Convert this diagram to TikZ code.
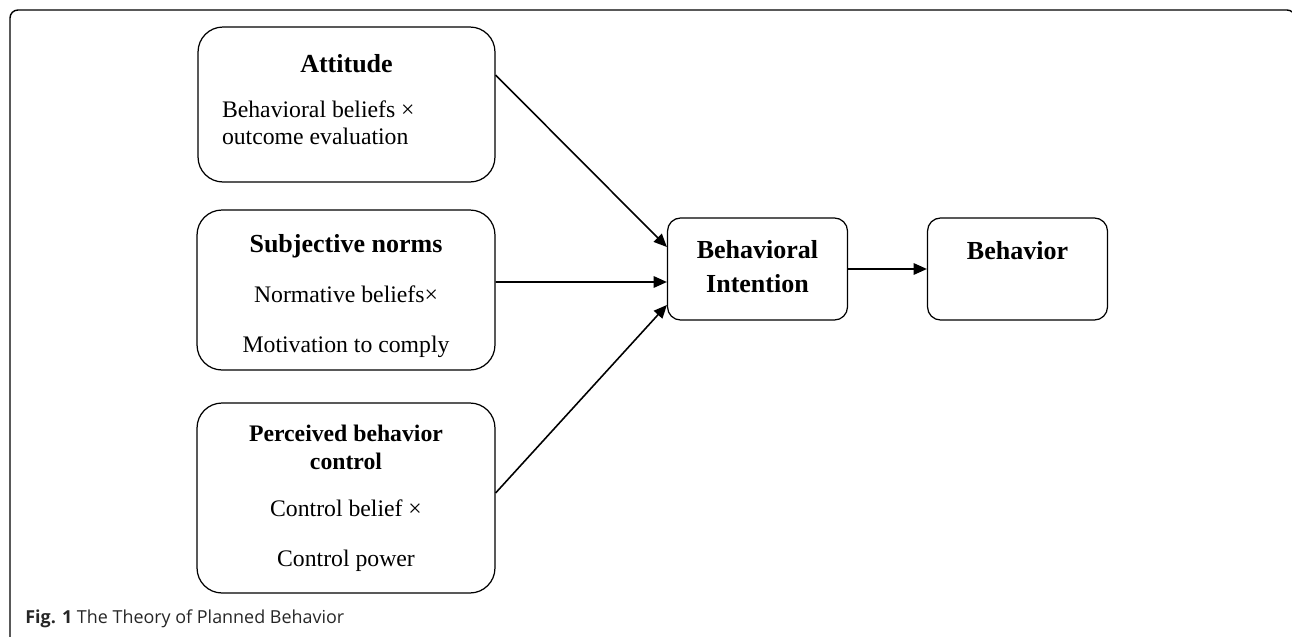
\documentclass[tikz,border=0pt]{standalone}
\usepackage{fontspec}
\setmainfont{Liberation Serif}
\newfontfamily\capfont{Open Sans}
\usetikzlibrary{arrows.meta}

\newcommand\boxtitle[1]{{\fontsize{14.8}{17}\selectfont\bfseries #1}}

\tikzset{
  bigbox/.style={draw, rounded corners=0.5cm, line width=0.7pt, inner sep=0pt,
    align=center, font=\fontsize{13.5}{16}\selectfont},
  smallbox/.style={bigbox, rounded corners=0.26cm, minimum width=3.6cm, minimum height=2.04cm},
  link/.style={line width=0.9pt, -{Triangle[length=7.5pt,width=6.5pt]}}
}

\begin{document}
\begin{tikzpicture}[x=0.02cm, y=-0.02cm]
\useasboundingbox (0,0) rectangle (1292,636);
% outer frame, only top and left are in view
\draw[line width=0.8pt, rounded corners=0.16cm] (10,640) -- (10,10) -- (1295,10) -- (1295,640);

% the three predictors
\node[bigbox, minimum width=5.94cm, minimum height=3.1cm] (att) at (346.5,104.5)
  {\boxtitle{Attitude}\\[10pt]\makebox[4.98cm][l]{Behavioral beliefs ×}\\[-1pt]\makebox[4.98cm][l]{outcome evaluation}\rule[-6pt]{0pt}{6pt}};
\node[bigbox, minimum width=5.96cm, minimum height=3.2cm] (sn) at (346,290)
  {\rule{0pt}{17pt}\boxtitle{Subjective norms}\\[12.5pt]Normative beliefs×\\[12.5pt]Motivation to comply};
\node[bigbox, minimum width=5.96cm, minimum height=3.8cm] (pbc) at (346,498)
  {\textbf{Perceived behavior}\\\textbf{control}\\[11pt]Control belief ×\\[12pt]Control power};

% intention and behavior
\node[smallbox] (bi) at (757.5,269) {\boxtitle{Behavioral}\\[3pt]\boxtitle{Intention}\rule[-3pt]{0pt}{3pt}};
\node[smallbox] (beh) at (1017.5,269) {\boxtitle{Behavior}\\[3pt]\mbox{}\rule[-2pt]{0pt}{2pt}};

\draw[link] ([yshift=0.59cm]att.east) -- ([yshift=0.44cm]bi.west);
\draw[link] ([yshift=0.16cm]sn.east) -- ([yshift=-0.26cm]bi.west);
\draw[link] ([yshift=0.1cm]pbc.east) -- ([yshift=-0.72cm]bi.west);
\draw[link] (bi.east) -- (beh.west);

% caption
\node[anchor=base west, inner sep=0pt, font=\capfont\fontsize{10.2}{12}\selectfont, text=black!85] (cap) at (25,623)
  {\textbf{Fig. 1} The Theory of Planned Behavior};
\end{tikzpicture}
\end{document}
